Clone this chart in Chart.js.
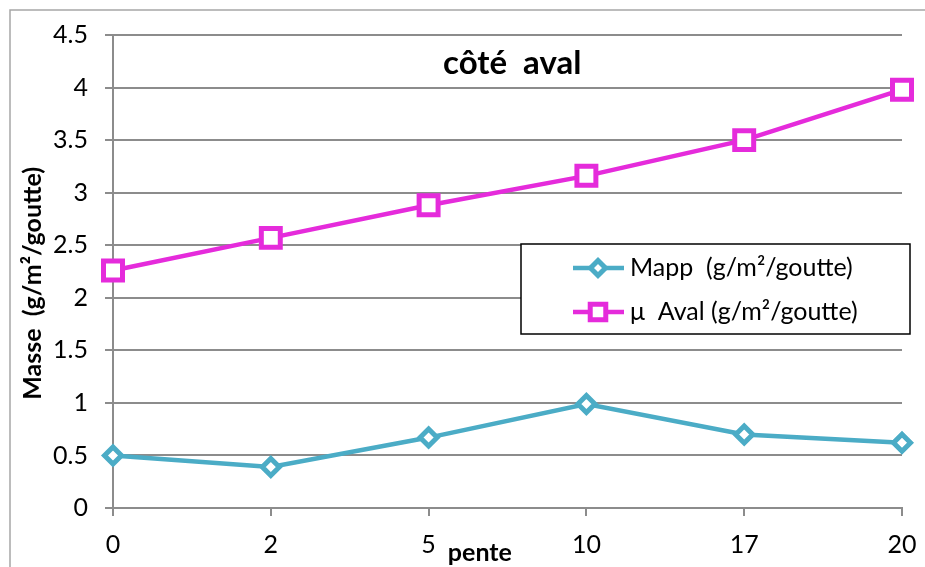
<!DOCTYPE html>
<html>
<head>
<meta charset="utf-8">
<script src="https://cdn.jsdelivr.net/npm/chart.js@4/dist/chart.umd.min.js"></script>
<style>
  html, body { margin: 0; padding: 0; background: #fff; }
  #wrap { width: 925px; height: 567px; position: relative; }
</style>
</head>
<body>
<div id="wrap"><canvas id="myChart" width="925" height="567"></canvas></div>
<script>
// donnees
const pente = ["0", "2", "5", "10", "17", "20"];
const mapp = [0.5, 0.39, 0.67, 0.99, 0.70, 0.62];
const muAval = [2.26, 2.57, 2.88, 3.16, 3.50, 3.98];

const titre = "côté  aval";
const titreY = "Masse  (g/m²/goutte)";
const titreX = "pente";

const bleu = "#4BACC6";
const magenta = "#E52BDB";
const police = "Lato, 'Open Sans', sans-serif";

// cadre, titres et legende dessines a la main
const decor = {
    id: "decor",
    beforeDraw(chart) {
        const c = chart.ctx;
        c.save();
        c.strokeStyle = "#a6a6a6";
        c.lineWidth = 1.5;
        c.beginPath();
        c.moveTo(10, 567);
        c.lineTo(10, 10);
        c.lineTo(925, 10);
        c.stroke();
        c.restore();
    },
    afterDraw(chart) {
        const c = chart.ctx;
        const a = chart.chartArea;
        c.save();
        c.fillStyle = "#000";
        c.textAlign = "center";
        c.textBaseline = "middle";
        c.font = "bold 33px " + police;
        c.fillText(titre, a.left + (a.right - a.left) * 0.506, a.top + 28);

        c.font = "bold 25px " + police;
        c.fillText(titreX, a.left + (a.right - a.left) * 0.465, 553);

        c.save();
        c.translate(33, a.top + (a.bottom - a.top) * 0.525);
        c.rotate(-Math.PI / 2);
        c.fillText(titreY, 0, 0);
        c.restore();

        // legende
        const lx = a.left + 408, ly = 244, lw = 389, lh = 90;
        c.fillStyle = "#fff";
        c.fillRect(lx, ly, lw, lh);
        c.strokeStyle = "#000";
        c.lineWidth = 1.5;
        c.strokeRect(lx, ly, lw, lh);
        chart.data.datasets.forEach((ds, i) => {
            const y = ly + 24 + i * 44;
            c.strokeStyle = ds.borderColor;
            c.lineWidth = ds.borderWidth;
            c.beginPath();
            c.moveTo(lx + 52, y);
            c.lineTo(lx + 103, y);
            c.stroke();
            c.fillStyle = "#fff";
            c.strokeStyle = ds.borderColor;
            c.lineWidth = ds.pointBorderWidth;
            Chart.helpers.drawPoint(c, {
                pointStyle: ds.pointStyle,
                radius: ds.pointStyle === "rect" ? 11 : 7.5,
                rotation: 0,
                borderWidth: ds.pointBorderWidth,
            }, lx + 77, y);
            c.fillStyle = "#000";
            c.textAlign = "left";
            c.font = "25px " + police;
            c.fillText(ds.label, lx + 109, y);
        });
        c.restore();
    },
};

let ctx = document.getElementById("myChart").getContext("2d");
let myChart = new Chart(ctx, {
    type: "line",
    data: {
        labels: pente,
        datasets: [
            {
                label: "Mapp  (g/m²/goutte)",
                data: mapp,
                borderColor: bleu,
                backgroundColor: "#fff",
                borderWidth: 4.5,
                pointStyle: "rectRot",
                pointRadius: 8.5,
                pointBorderWidth: 5,
                pointBackgroundColor: "#fff",
                pointBorderColor: bleu,
            },
            {
                label: "μ  Aval (g/m²/goutte)",
                data: muAval,
                borderColor: magenta,
                backgroundColor: "#fff",
                borderWidth: 4.5,
                pointStyle: "rect",
                pointRadius: 13.4,
                pointBorderWidth: 5,
                pointBackgroundColor: "#fff",
                pointBorderColor: magenta,
            },
        ],
    },
    options: {
        responsive: false,
        animation: false,
        layout: { padding: { left: 0, right: 23, top: 35, bottom: 0 } },
        plugins: {
            legend: { display: false },
            tooltip: { enabled: false },
        },
        scales: {
            x: {
                offset: false,
                afterFit: (s) => {
                    s.height = 59;
                    s.paddingLeft = 0;
                    s.paddingRight = 0;
                },
                grid: { drawOnChartArea: false, color: "#8c8c8c", lineWidth: 2, tickLength: 8 },
                border: { color: "#8c8c8c", width: 2 },
                ticks: { color: "#000", padding: 14, font: { family: police, size: 25 }, maxRotation: 0 },
            },
            y: {
                min: 0,
                max: 4.5,
                afterFit: (s) => {
                    s.width = 113;
                    s.paddingTop = 0;
                    s.paddingBottom = 0;
                },
                grid: { color: "#8c8c8c", lineWidth: 2, tickLength: 8 },
                border: { color: "#8c8c8c", width: 2 },
                ticks: {
                    stepSize: 0.5,
                    color: "#000",
                    padding: 17,
                    font: { family: police, size: 25 },
                    callback: (v) => String(v),
                },
            },
        },
    },
    plugins: [decor],
});
</script>
</body>
</html>
